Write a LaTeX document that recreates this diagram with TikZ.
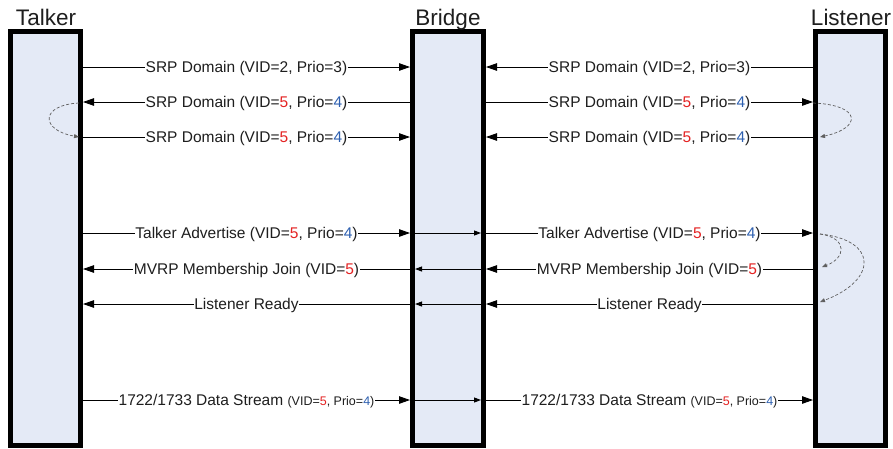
\documentclass[tikz,border=0pt]{standalone}
\usepackage{fontspec}
\setmainfont{Liberation Sans}
\usetikzlibrary{arrows.meta,calc}
\definecolor{boxfill}{RGB}{228,234,246}
\definecolor{vred}{RGB}{228,36,36}
\definecolor{pblue}{RGB}{46,96,176}
\definecolor{curvec}{RGB}{95,95,95}
\definecolor{txt}{RGB}{30,30,30}
\newcommand\msgsize{\fontsize{15.5}{18}\selectfont}
\newcommand\smallsize{\fontsize{12.5}{14}\selectfont}
\newcommand\hdrsize{\fontsize{22.5}{26}\selectfont}
\newcommand\R[1]{\textcolor{vred}{#1}}
\newcommand\Bl[1]{\textcolor{pblue}{#1}}
\begin{document}
\begin{tikzpicture}[x=1pt,y=-1pt,
 entity/.style={draw=black, line width=5pt, fill=boxfill, inner sep=0pt, minimum width=70pt, minimum height=414pt},
 hdr/.style={anchor=base, font=\hdrsize, inner sep=0pt, text=txt},
 msgline/.style={line width=0.9pt, -{Triangle[length=11pt,width=7.5pt]}},
 thru/.style={line width=0.9pt, -{Triangle[length=7pt,width=5pt]}},
 lbl/.style={fill=white, inner xsep=0.8pt, inner ysep=1pt, anchor=base, yshift=-5.4pt, font=\msgsize, text=txt},
 loopc/.style={draw=curvec, line width=0.7pt, densely dashed, -{Triangle[length=5pt,width=4pt]}},
]
\useasboundingbox[fill=white] (0,0) rectangle (893,448);

% entities
\node[entity] (T) at (45.5,238.5) {};
\node[entity, minimum width=71pt] (B) at (448,238.5) {};
\node[entity] (L) at (850.5,238.5) {};
\node[hdr] (tT) at (46,25) {Talker};
\node[hdr] (tB) at (448,25) {Bridge};
\node[hdr] (tL) at (851,25) {Listener};

% rows
\coordinate (r1) at (0,67);
\coordinate (r2) at (0,102);
\coordinate (r3) at (0,137);
\coordinate (r4) at (0,233);
\coordinate (r5) at (0,269);
\coordinate (r6) at (0,304);
\coordinate (r7) at (0,400);

% left side
\draw[msgline] (T.east|-r1) -- node[lbl]{SRP Domain (VID=2, Prio=3)} (B.west|-r1);
\draw[msgline] (B.west|-r2) -- node[lbl]{SRP Domain (VID=\R{5}, Prio=\Bl{4})} (T.east|-r2);
\draw[msgline] (T.east|-r3) -- node[lbl]{SRP Domain (VID=\R{5}, Prio=\Bl{4})} (B.west|-r3);
\draw[msgline] (T.east|-r4) -- node[lbl]{Talker Advertise (VID=\R{5}, Prio=\Bl{4})} (B.west|-r4);
\draw[msgline] (B.west|-r5) -- node[lbl]{MVRP Membership Join (VID=\R{5})} (T.east|-r5);
\draw[msgline] (B.west|-r6) -- node[lbl]{Listener Ready} (T.east|-r6);
\draw[msgline] (T.east|-r7) -- node[lbl]{1722/1733 Data Stream {\smallsize(VID=\R{5}, Prio=\Bl{4})}} (B.west|-r7);

% right side
\draw[msgline] (L.west|-r1) -- node[lbl]{SRP Domain (VID=2, Prio=3)} (B.east|-r1);
\draw[msgline] (B.east|-r2) -- node[lbl]{SRP Domain (VID=\R{5}, Prio=\Bl{4})} (L.west|-r2);
\draw[msgline] (L.west|-r3) -- node[lbl]{SRP Domain (VID=\R{5}, Prio=\Bl{4})} (B.east|-r3);
\draw[msgline] (B.east|-r4) -- node[lbl]{Talker Advertise (VID=\R{5}, Prio=\Bl{4})} (L.west|-r4);
\draw[msgline] (L.west|-r5) -- node[lbl]{MVRP Membership Join (VID=\R{5})} (B.east|-r5);
\draw[msgline] (L.west|-r6) -- node[lbl]{Listener Ready} (B.east|-r6);
\draw[msgline] (B.east|-r7) -- node[lbl]{1722/1733 Data Stream {\smallsize(VID=\R{5}, Prio=\Bl{4})}} (L.west|-r7);

% through the bridge
\draw[thru] ($(B.west|-r4)+(5,0)$) -- ($(B.east|-r4)+(-5,0)$);
\draw[thru] ($(B.east|-r5)+(-5,0)$) -- ($(B.west|-r5)+(5,0)$);
\draw[thru] ($(B.east|-r6)+(-5,0)$) -- ($(B.west|-r6)+(5,0)$);
\draw[thru] ($(B.west|-r7)+(5,0)$) -- ($(B.east|-r7)+(-5,0)$);

% internal loops
\draw[loopc] (79,103) .. controls (40,105) and (40,130) .. (79,137);
\draw[loopc] (813,103) .. controls (862,105) and (862,128) .. (820,137);
\draw[loopc] (820,234) .. controls (848,238) and (846,258) .. (822,267);
\draw[loopc] (820,234) .. controls (878,240) and (878,280) .. (820,302);
\end{tikzpicture}
\end{document}
